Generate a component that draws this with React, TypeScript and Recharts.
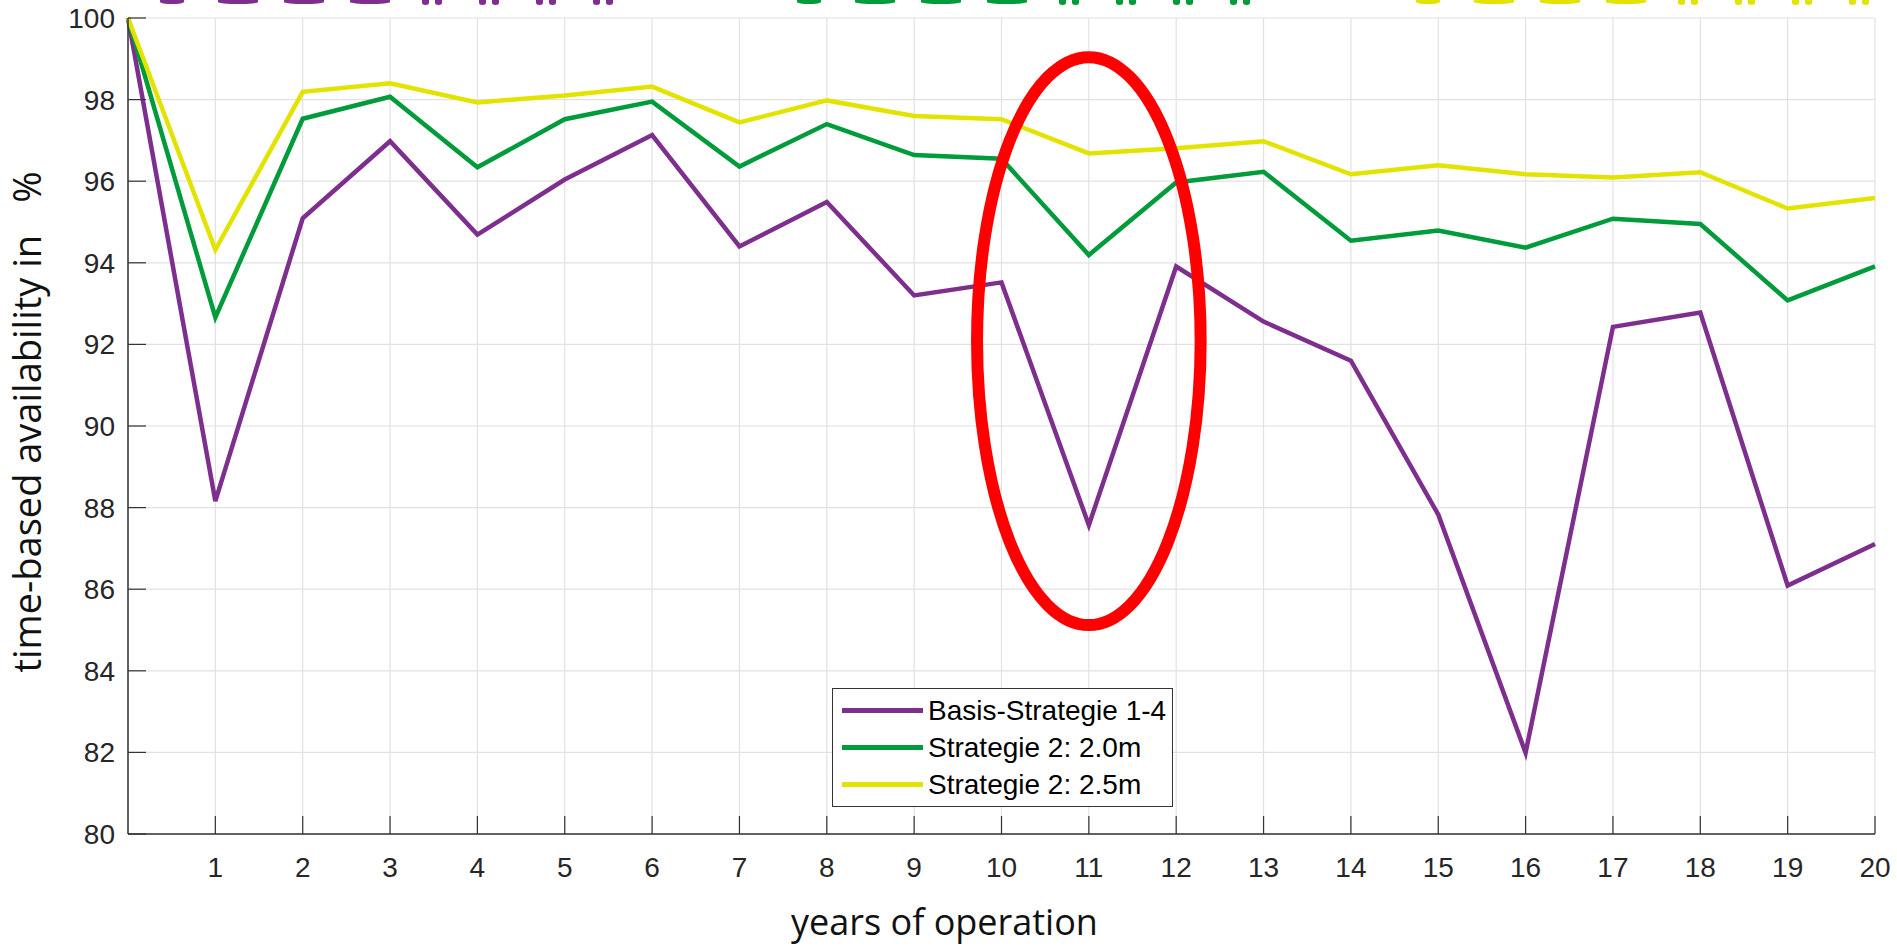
import React from 'react';
import { LineChart, Line, XAxis, YAxis, CartesianGrid, Legend, ReferenceArea } from 'recharts';

// years of operation
const years = [0, 1, 2, 3, 4, 5, 6, 7, 8, 9, 10, 11, 12, 13, 14, 15, 16, 17, 18, 19, 20];

// time-based availability in %
const basisStrategie = [100, 88.16, 95.09, 96.98, 94.69, 96.04, 97.13, 94.4, 95.49, 93.2, 93.52, 87.57, 93.91, 92.56, 91.6, 87.83, 81.99, 92.43, 92.78, 86.09, 87.11];
const strategie20 = [100, 92.66, 97.53, 98.07, 96.34, 97.52, 97.95, 96.36, 97.4, 96.64, 96.55, 94.19, 95.97, 96.23, 94.54, 94.79, 94.37, 95.08, 94.95, 93.08, 93.91];
const strategie25 = [100, 94.32, 98.19, 98.4, 97.93, 98.1, 98.32, 97.44, 97.98, 97.6, 97.52, 96.68, 96.81, 96.98, 96.17, 96.39, 96.17, 96.09, 96.22, 95.33, 95.59];

const xTicks = [1, 2, 3, 4, 5, 6, 7, 8, 9, 10, 11, 12, 13, 14, 15, 16, 17, 18, 19, 20];
const yTicks = [80, 82, 84, 86, 88, 90, 92, 94, 96, 98, 100];

// red ring around year 11 (data units)
const ringX = [9.72, 12.28];
const ringY = [85.12, 99.04];

const PURPLE = '#7E2F8E';
const GREEN = '#009B3A';
const YELLOW = '#E3E300';
const AXIS = '#333333';
const TICK_FONT = '"Liberation Sans", Arial, sans-serif';
const LABEL_FONT = '"Open Sans", sans-serif';

const data = years.map((y, i) => ({
  year: y,
  basis: basisStrategie[i],
  s20: strategie20[i],
  s25: strategie25[i],
}));

// cut-off glyph remnants along the top edge
const topMarks = [
  { color: PURPLE, start: 160 },
  { color: GREEN, start: 797 },
  { color: YELLOW, start: 1416 },
];

function TopRemnants() {
  return (
    <>
      {topMarks.map((m) => (
        <React.Fragment key={m.color}>
          {[0, 1, 2, 3].map((k) => (
            <div
              key={'a' + k}
              style={{
                position: 'absolute',
                left: m.start + k * 66 - (k === 0 ? 0 : 8),
                top: 0,
                width: k === 0 ? 24 : 40,
                height: 4,
                background: m.color,
                borderRadius: '0 0 50% 50%',
              }}
            />
          ))}
          {[0, 1, 2, 3].map((k) => (
            <div
              key={'d' + k}
              style={{
                position: 'absolute',
                left: m.start + 262 + k * 57,
                top: 0,
                width: 20,
                height: 5,
                display: 'flex',
                justifyContent: 'space-between',
              }}
            >
              <span style={{ width: 7, height: 5, background: m.color, borderRadius: '0 0 50% 50%' }} />
              <span style={{ width: 7, height: 5, background: m.color, borderRadius: '0 0 50% 50%' }} />
            </div>
          ))}
        </React.Fragment>
      ))}
    </>
  );
}

const renderLegend = (props: any) => {
  const { payload } = props;
  return (
    <div
      style={{
        width: 341,
        height: 119,
        boxSizing: 'border-box',
        border: `1.5px solid ${AXIS}`,
        background: '#fff',
        paddingTop: 3,
      }}
    >
      {(payload || []).map((entry: any) => (
        <div key={entry.value} style={{ display: 'flex', alignItems: 'center', height: 37 }}>
          <div style={{ marginLeft: 9, width: 81, height: 5, background: entry.color }} />
          <span style={{ marginLeft: 5, fontFamily: TICK_FONT, fontSize: 28, color: '#000', whiteSpace: 'nowrap' }}>
            {entry.value}
          </span>
        </div>
      ))}
    </div>
  );
};

export default function App() {
  return (
    <div style={{ position: 'absolute', left: 0, top: 0, width: 1897, height: 946, background: '#fff', overflow: 'hidden' }}>
      <TopRemnants />
      <LineChart width={1897} height={946} data={data} margin={{ top: 18, right: 22, bottom: 0, left: 0 }}>
        <CartesianGrid stroke="#e2e2e2" strokeWidth={1.2} />
        <XAxis
          dataKey="year"
          type="number"
          domain={[0, 20]}
          ticks={xTicks}
          interval={0}
          height={112}
          tickSize={-18}
          tickMargin={41}
          axisLine={{ stroke: AXIS, strokeWidth: 1.5 }}
          tickLine={{ stroke: AXIS, strokeWidth: 1.2 }}
          tick={{ fill: '#262626', fontSize: 28, fontFamily: TICK_FONT }}
          label={{
            content: (p: any) => {
              const vb = p.viewBox;
              return (
                <text x={vb.x + vb.width / 2 - 57} y={vb.y + 101} textAnchor="middle" fontFamily={LABEL_FONT} fontSize={36} fill="#111">
                  years of operation
                </text>
              );
            },
          }}
        />
        <XAxis
          xAxisId="top"
          orientation="top"
          type="number"
          domain={[0, 20]}
          ticks={xTicks}
          interval={0}
          height={0}
          tickSize={-18}
          axisLine={{ stroke: AXIS, strokeWidth: 1.5 }}
          tickLine={{ stroke: AXIS, strokeWidth: 1.2 }}
          tick={() => <g />}
        />
        <YAxis
          type="number"
          domain={[80, 100]}
          ticks={yTicks}
          interval={0}
          width={128}
          tickSize={-18}
          tickMargin={31}
          axisLine={{ stroke: AXIS, strokeWidth: 1.5 }}
          tickLine={{ stroke: AXIS, strokeWidth: 1.2 }}
          tick={{ fill: '#262626', fontSize: 28, fontFamily: TICK_FONT }}
          label={{
            content: (p: any) => {
              const vb = p.viewBox;
              const cx = 26;
              const cy = vb.y + vb.height / 2 - 4;
              return (
                <text
                  x={cx}
                  y={cy}
                  transform={`rotate(-90 ${cx} ${cy})`}
                  textAnchor="middle"
                  dominantBaseline="central"
                  fontFamily={LABEL_FONT}
                  fontSize={38}
                  fill="#111"
                >
                  time-based availability in<tspan dx={32}>%</tspan>
                </text>
              );
            },
          }}
        />
        <YAxis
          yAxisId="right"
          orientation="right"
          type="number"
          domain={[80, 100]}
          ticks={yTicks}
          interval={0}
          width={0}
          tickSize={-18}
          axisLine={{ stroke: AXIS, strokeWidth: 1.5 }}
          tickLine={{ stroke: AXIS, strokeWidth: 1.2 }}
          tick={() => <g />}
        />
        <Line type="linear" dataKey="basis" name="Basis-Strategie 1-4" stroke={PURPLE} strokeWidth={4.5} dot={false} isAnimationActive={false} />
        <Line type="linear" dataKey="s20" name="Strategie 2: 2.0m" stroke={GREEN} strokeWidth={4.5} dot={false} isAnimationActive={false} />
        <Line type="linear" dataKey="s25" name="Strategie 2: 2.5m" stroke={YELLOW} strokeWidth={4.5} dot={false} isAnimationActive={false} />
        <ReferenceArea
          x1={ringX[0]}
          x2={ringX[1]}
          y1={ringY[0]}
          y2={ringY[1]}
          ifOverflow="visible"
          zIndex={2000}
          shape={(p: any) => (
            <ellipse
              cx={p.x + p.width / 2}
              cy={p.y + p.height / 2}
              rx={Math.abs(p.width) / 2}
              ry={Math.abs(p.height) / 2}
              fill="none"
              stroke="#FF0000"
              strokeWidth={12}
            />
          )}
        />
        <Legend
          layout="vertical"
          align="center"
          verticalAlign="middle"
          content={renderLegend}
          wrapperStyle={{ position: 'absolute', left: 832, top: 688, width: 341, height: 119 }}
        />
      </LineChart>
    </div>
  );
}
